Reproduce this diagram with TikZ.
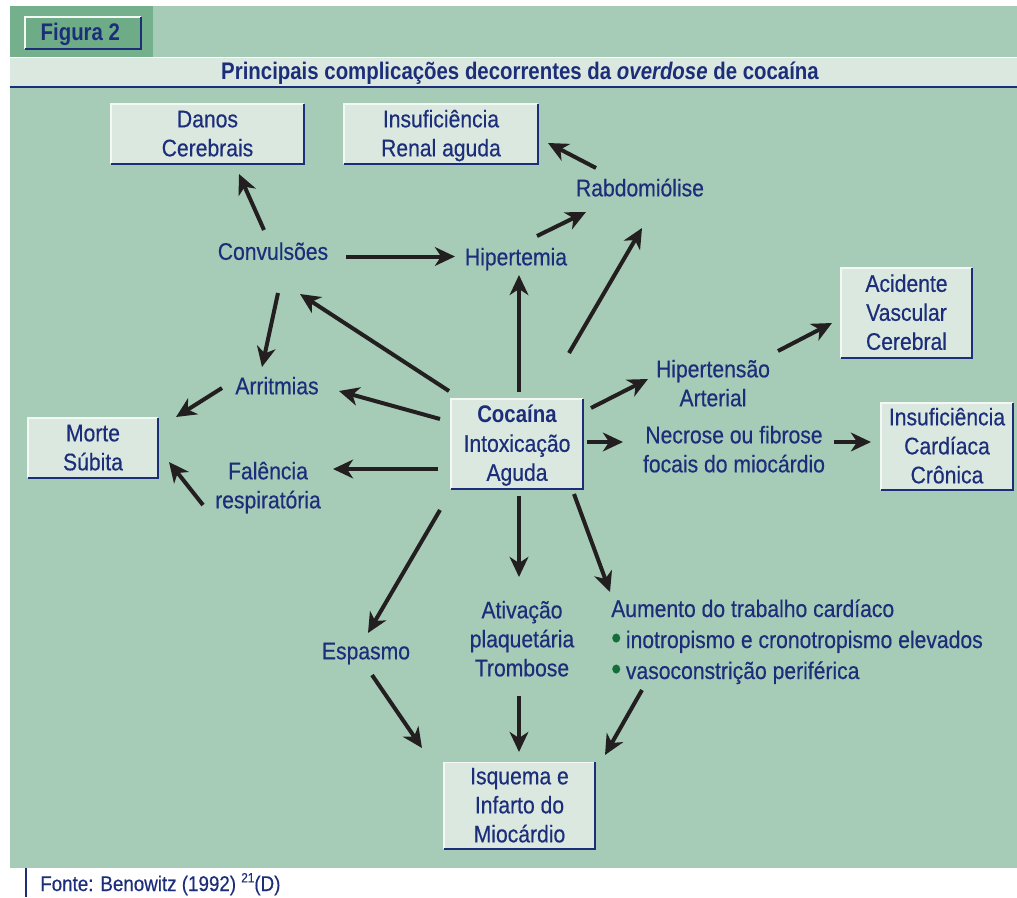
\documentclass[tikz,border=0pt]{standalone}
\usepackage{fontspec}
\setmainfont{Liberation Sans}[
  UprightFeatures={FakeStretch=0.88,FakeBold=0.4},
  BoldFeatures={FakeStretch=0.85},
  ItalicFeatures={FakeStretch=0.88},
  BoldItalicFeatures={FakeStretch=0.85}]
\usetikzlibrary{arrows.meta}
\definecolor{bggreen}{RGB}{166,204,183}
\definecolor{tabgreen}{RGB}{116,176,140}
\definecolor{figfill}{RGB}{110,172,135}
\definecolor{lightfill}{RGB}{218,232,223}
\definecolor{navy}{RGB}{28,45,122}
\definecolor{arrowc}{RGB}{35,31,32}
\definecolor{bulletg}{RGB}{20,110,55}
\newcommand\sx{\vrule width 0pt height 16.2pt depth 4.5pt\relax}
\newcommand\gbul{\raisebox{-0.6pt}{\color{bulletg}\scalebox{1.35}{\textbullet}}\hspace{3.5pt}}
\newcommand\smallsup[1]{\raisebox{6.5pt}{\fontsize{10pt}{10pt}\selectfont #1}}
\begin{document}
\begin{tikzpicture}[x=0.75pt,y=-0.75pt,
  txt/.style={inner sep=0pt, text=navy, font=\fontsize{18pt}{21.75pt}\selectfont, align=center},
  bx/.style={txt, fill=lightfill},
  conn/.style={draw=arrowc, line width=3pt, -{Stealth[length=15pt,width=14pt,inset=4.5pt]}},
  bevlight/.style={draw=white!70!lightfill, line width=1.2pt},
  bevdark/.style={draw=navy, line width=1.5pt}
]
\useasboundingbox (0,0) rectangle (1017,897);
\fill[white] (0,0) rectangle (1017,897);
% background panels
\fill[bggreen] (10,6) rectangle (1017,868);
\fill[tabgreen] (10,6) rectangle (153,57);
\fill[lightfill] (10,57) rectangle (1017,87);
\draw[white, line width=1pt] (10,57.5) -- (1017,57.5);
\draw[bevdark] (10,87) -- (1017,87);
% figure tab
\node[txt, fill=figfill, minimum width=87pt, minimum height=24pt, font=\fontsize{18pt}{21.75pt}\selectfont\bfseries] (fig) at (83,33) {\sx Figura 2\hspace{4pt}};
\node[txt, font=\fontsize{18pt}{21.75pt}\selectfont\bfseries] (title) at (520,71.5) {\sx Principais complicações decorrentes da \textit{overdose} de cocaína};
% boxes
\node[bx, minimum width=144.75pt, minimum height=45pt] (danos) at (207.5,134) {\sx Danos\\\sx Cerebrais};
\node[bx, minimum width=145.5pt, minimum height=45pt] (renal) at (441,134) {\sx Insuficiência\\\sx Renal aguda};
\node[bx, minimum width=98.25pt, minimum height=67.5pt] (avc) at (906.5,313) {\sx Acidente\\\sx Vascular\\\sx Cerebral};
\node[bx, minimum width=97.5pt, minimum height=45pt] (morte) at (93,448) {\sx Morte\\\sx Súbita};
\node[bx, minimum width=99pt, minimum height=67.5pt] (coc) at (517,444) {\sx\textbf{Cocaína}\\\sx Intoxicação\\\sx Aguda};
\node[bx, minimum width=99pt, minimum height=65.25pt] (icc) at (947,446.5) {\sx Insuficiência\\\sx Cardíaca\\\sx Crônica};
\node[bx, minimum width=113.25pt, minimum height=63.75pt] (isq) at (519.5,805.5) {\sx Isquema e\\\sx Infarto do\\\sx Miocárdio};
\foreach \n in {fig,danos,renal,avc,morte,coc,icc,isq}{
  \draw[bevlight] (\n.south west) |- (\n.north east);
  \draw[bevdark] (\n.south west) -| (\n.north east);
}
% labels
\node[txt] (conv) at (273,252) {\sx Convulsões};
\node[txt] (hip) at (516,257.5) {\sx Hipertemia};
\node[txt] (rab) at (640,188.5) {\sx Rabdomiólise};
\node[txt] (arrit) at (277,386.5) {\sx Arritmias};
\node[txt] (fal) at (268,486) {\sx Falência\\\sx respiratória};
\node[txt] (hta) at (713,384) {\sx Hipertensão\\\sx Arterial};
\node[txt] (nec) at (734,450) {\sx Necrose ou fibrose\\\sx focais do miocárdio};
\node[txt] (esp) at (366,651.5) {\sx Espasmo};
\node[txt] (ativ) at (522,639.5) {\sx Ativação\\\sx plaquetária\\\sx Trombose};
\node[txt, anchor=base west] (aum) at (611,617) {\sx Aumento do trabalho cardíaco};
\node[txt, anchor=base west] (ino) at (611,648) {\sx\gbul inotropismo e cronotropismo elevados};
\node[txt, anchor=base west] (vaso) at (611,679) {\sx\gbul vasoconstrição periférica};
% footer
\draw[bevdark] (25.5,868) -- (25.5,897);
\node[inner sep=0pt, text=navy, font=\fontsize{16pt}{19pt}\selectfont, anchor=base west] (fonte) at (40,891) {Fonte: Benowitz (1992) \smallsup{21}(D)};
% connectors
\draw[conn] ([shift={(-9,-22)}]conv.center) -- ([shift={(31.5,40)}]danos.center);
\draw[conn] ([shift={(73,4.5)}]conv.center) -- ([shift={(-61,-1)}]hip.center);
\draw[conn] ([shift={(5,41)}]conv.center) -- ([shift={(-15,-19.5)}]arrit.center);
\draw[conn] ([shift={(-68,-53)}]coc.center) -- ([shift={(27,42)}]conv.center);
\draw[conn] ([shift={(-77,-25)}]coc.center) -- ([shift={(62,4.5)}]arrit.center);
\draw[conn] ([shift={(-55,1.5)}]arrit.center) -- ([shift={(83,-31)}]morte.center);
\draw[conn] ([shift={(-65,19)}]fal.center) -- ([shift={(76,14)}]morte.center);
\draw[conn] ([shift={(-79,25)}]coc.center) -- ([shift={(65,-17)}]fal.center);
\draw[conn] ([shift={(2,-52)}]coc.center) -- ([shift={(3,17.5)}]hip.center);
\draw[conn] ([shift={(21,-21.5)}]hip.center) -- ([shift={(-54,23.5)}]rab.center);
\draw[conn] ([shift={(-44,-20.5)}]rab.center) -- ([shift={(107,9)}]renal.center);
\draw[conn] ([shift={(52,-91)}]coc.center) -- ([shift={(2,39.5)}]rab.center);
\draw[conn] ([shift={(74,-36)}]coc.center) -- ([shift={(-65,-5)}]hta.center);
\draw[conn] ([shift={(65,-33)}]hta.center) -- ([shift={(-74.5,10)}]avc.center);
\draw[conn] ([shift={(70,-2)}]coc.center) -- ([shift={(-111,-8)}]nec.center);
\draw[conn] ([shift={(100,-8)}]nec.center) -- ([shift={(-76,-4.5)}]icc.center);
\draw[conn] ([shift={(-77,66)}]coc.center) -- ([shift={(2,-18.5)}]esp.center);
\draw[conn] ([shift={(2,52)}]coc.center) -- ([shift={(-3,-62.5)}]ativ.center);
\draw[conn] ([shift={(57,50)}]coc.center) -- ([shift={(-1,-25)}]aum.base west);
\draw[conn] ([shift={(6,23.5)}]esp.center) -- ([shift={(-97.5,-57.5)}]isq.center);
\draw[conn] ([shift={(-3,56.5)}]ativ.center) -- ([shift={(-0.5,-53.5)}]isq.center);
\draw[conn] ([shift={(31,11)}]vaso.base west) -- ([shift={(85.5,-50.5)}]isq.center);
\end{tikzpicture}
\end{document}
